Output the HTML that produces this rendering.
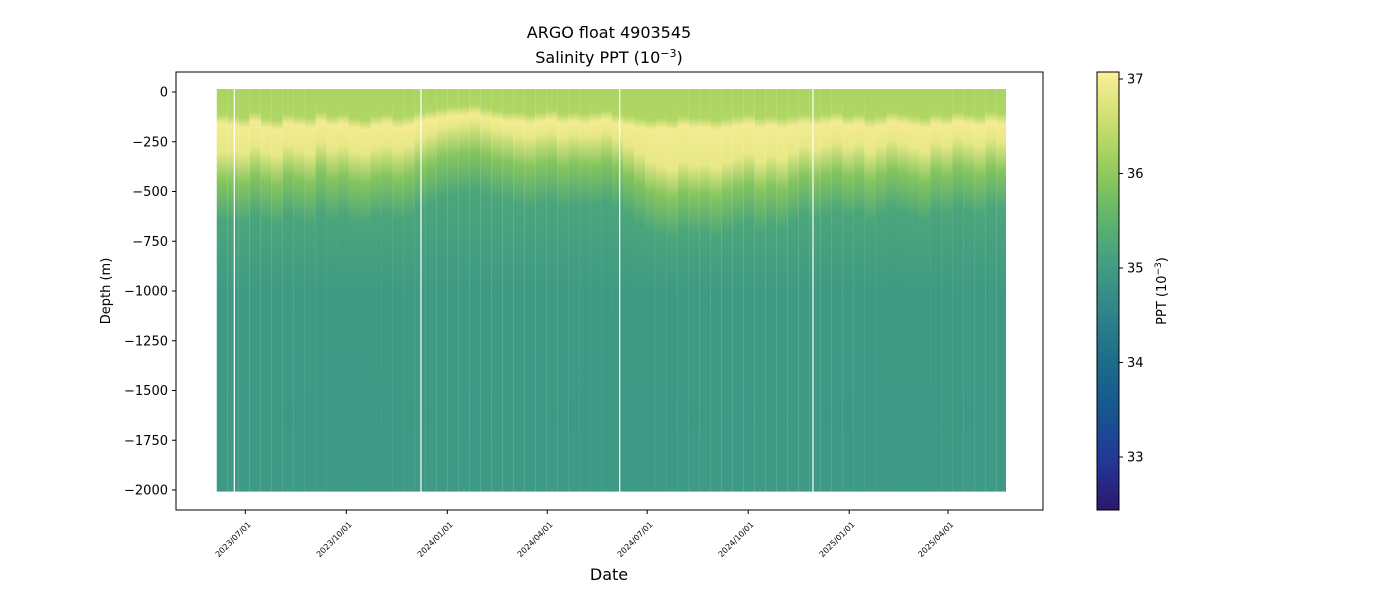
<!DOCTYPE html>
<html><head><meta charset="utf-8"><style>body{margin:0;background:#fff}svg{font-family:"DejaVu Sans","Liberation Sans",sans-serif}</style></head>
<body>
<svg id="c" width="1400" height="600" xmlns="http://www.w3.org/2000/svg">
<defs id="defs"></defs>
<text x="609" y="38" font-size="16" text-anchor="middle">ARGO float 4903545</text>
<text x="609" y="63" font-size="16" text-anchor="middle">Salinity PPT (10<tspan dy="-6" font-size="11">−3</tspan><tspan dy="6">)</tspan></text>
<g id="plot"></g>
<rect x="176" y="72" width="867" height="438" fill="none" stroke="#000" stroke-width="1"/>
<g id="yaxis"></g>
<g id="xaxis"></g>
<text transform="translate(110,291) rotate(-90)" font-size="13" text-anchor="middle">Depth (m)</text>
<text x="609" y="580" font-size="16" text-anchor="middle">Date</text>
<g id="cbar"></g>
<text transform="translate(1166,291) rotate(-90)" font-size="13" text-anchor="middle">PPT (10<tspan dy="-5" font-size="9">−3</tspan><tspan dy="5">)</tspan></text>
</svg>
<script>
const NS="http://www.w3.org/2000/svg";
// data
const profileStartDay=-26; // days relative to 2023/07/01
const profileStep=10;
const mldDepth=[130,140,150,120,150,160,130,140,150,120,140,130,150,160,140,130,150,140,120,110,100,90,90,80,100,110,120,120,130,120,110,130,120,130,120,110,130,140,150,160,150,160,140,150,150,160,150,140,130,150,140,150,140,130,140,130,120,140,130,150,140,120,130,140,150,130,140,120,130,140,120,130];
const yellowBottom=[330,330,340,300,330,350,300,320,340,280,320,300,330,340,310,300,320,300,260,240,210,200,190,180,200,220,230,250,260,240,230,260,240,250,250,230,260,300,340,380,400,420,380,400,390,410,380,360,340,380,350,370,330,300,320,300,280,310,290,330,300,270,290,310,330,280,300,260,280,300,260,280];
const gapDays=[-10,160,341,517];
const yTicks=[0,-250,-500,-750,-1000,-1250,-1500,-1750,-2000];
const xTickLabels=["2023/07/01","2023/10/01","2024/01/01","2024/04/01","2024/07/01","2024/10/01","2025/01/01","2025/04/01"];
const xTickDays=[0,92,184,275,366,458,550,640];
const cbTicks=[33,34,35,36,37];
// scales
const xS=d=>245.3+d*1.098;
const yS=v=>92+(-v)*398/2000;
const cS=v=>79+(37-v)*94.5;
const cmapStops=[[32.44,'#2a186c'],[33,'#233a9a'],[33.5,'#14568f'],[34,'#1d6b8b'],[34.5,'#2e838a'],[35,'#409b84'],[35.5,'#5cb36e'],[36,'#8ec95a'],[36.5,'#c6de6a'],[37.08,'#fdee99']];
function col(v){v=Math.max(32.44,Math.min(37.08,v));for(let i=1;i<cmapStops.length;i++){if(v<=cmapStops[i][0]){const a=cmapStops[i-1],b=cmapStops[i],t=(v-a[0])/(b[0]-a[0]);const pa=[1,3,5].map(k=>parseInt(a[1].substr(k,2),16)),pb=[1,3,5].map(k=>parseInt(b[1].substr(k,2),16));return 'rgb('+pa.map((x,j)=>Math.round(x+(pb[j]-x)*t)).join(',')+')';}}return '#fdee99';}
const defs=document.getElementById('defs'),plot=document.getElementById('plot');
function stop(g,off,v){const s=document.createElementNS(NS,'stop');s.setAttribute('offset',off);s.setAttribute('stop-color',col(v));g.appendChild(s);}
const topDepth=-15,botDepth=2008;
mldDepth.forEach((m,i)=>{
  const d=profileStartDay+i*profileStep;
  const g=document.createElementNS(NS,'linearGradient');g.id='g'+i;g.setAttribute('x1',0);g.setAttribute('x2',0);g.setAttribute('y1',0);g.setAttribute('y2',1);
  const f=z=>((z-topDepth)/(botDepth-topDepth)).toFixed(4);
  const yb=yellowBottom[i];
  stop(g,0,36.25);stop(g,f(m-20),36.3);stop(g,f(m+30),36.98);stop(g,f(yb-30),36.85);stop(g,f(yb+120),35.9);stop(g,f(yb+320),35.2);stop(g,f(1000),34.98);stop(g,1,34.95);
  defs.appendChild(g);
  const r=document.createElementNS(NS,'rect');
  
  
  const x0=xS(d),x1=xS(d+profileStep);
  r.setAttribute('x',x0);r.setAttribute('width',Math.min(x1,1006)-x0);
  r.setAttribute('y',yS(-topDepth));r.setAttribute('height',yS(-botDepth)-yS(-topDepth));
  r.setAttribute('fill','url(#g'+i+')');plot.appendChild(r);
});
gapDays.forEach(d=>{const l=document.createElementNS(NS,'line');
  
  
  l.setAttribute('x1',xS(d));l.setAttribute('x2',xS(d));l.setAttribute('y1',yS(15));l.setAttribute('y2',yS(-2010));l.setAttribute('stroke','#fff');l.setAttribute('stroke-width','1.2');plot.appendChild(l);});
const ya=document.getElementById('yaxis');
yTicks.forEach(v=>{const y=yS(v);
  const l=document.createElementNS(NS,'line');
  
  
  l.setAttribute('x1',172);l.setAttribute('x2',176);l.setAttribute('y1',y);l.setAttribute('y2',y);l.setAttribute('stroke','#000');ya.appendChild(l);
  const t=document.createElementNS(NS,'text');
  
  
  t.setAttribute('x',168);t.setAttribute('y',y+4.5);t.setAttribute('font-size','13');t.setAttribute('text-anchor','end');t.textContent=v===0?'0':'−'+(-v);ya.appendChild(t);});
const xa=document.getElementById('xaxis');
xTickDays.forEach((d,i)=>{const x=xS(d);
  const l=document.createElementNS(NS,'line');
  
  
  l.setAttribute('x1',x);l.setAttribute('x2',x);l.setAttribute('y1',510);l.setAttribute('y2',514);l.setAttribute('stroke','#000');xa.appendChild(l);
  const t=document.createElementNS(NS,'text');
  
  
  t.setAttribute('transform','translate('+(x+6)+',525) rotate(-45)');t.setAttribute('font-size','8');t.setAttribute('text-anchor','end');t.textContent=xTickLabels[i];xa.appendChild(t);});
const cb=document.getElementById('cbar');
const cg=document.createElementNS(NS,'linearGradient');cg.id='cbg';cg.setAttribute('x1',0);cg.setAttribute('x2',0);cg.setAttribute('y1',1);cg.setAttribute('y2',0);
for(let k=0;k<=20;k++){const v=32.44+(37.08-32.44)*k/20;stop(cg,k/20,v);}defs.appendChild(cg);
const cr=document.createElementNS(NS,'rect');


cr.setAttribute('x',1097);cr.setAttribute('y',72);cr.setAttribute('width',22);cr.setAttribute('height',438);cr.setAttribute('fill','url(#cbg)');cr.setAttribute('stroke','#000');cb.appendChild(cr);
cbTicks.forEach(v=>{const y=cS(v);
  const l=document.createElementNS(NS,'line');
  
  
  l.setAttribute('x1',1119);l.setAttribute('x2',1123);l.setAttribute('y1',y);l.setAttribute('y2',y);l.setAttribute('stroke','#000');cb.appendChild(l);
  const t=document.createElementNS(NS,'text');
  
  
  t.setAttribute('x',1127);t.setAttribute('y',y+4.5);t.setAttribute('font-size','13');t.textContent=v;cb.appendChild(t);});
</script>
</body></html>
